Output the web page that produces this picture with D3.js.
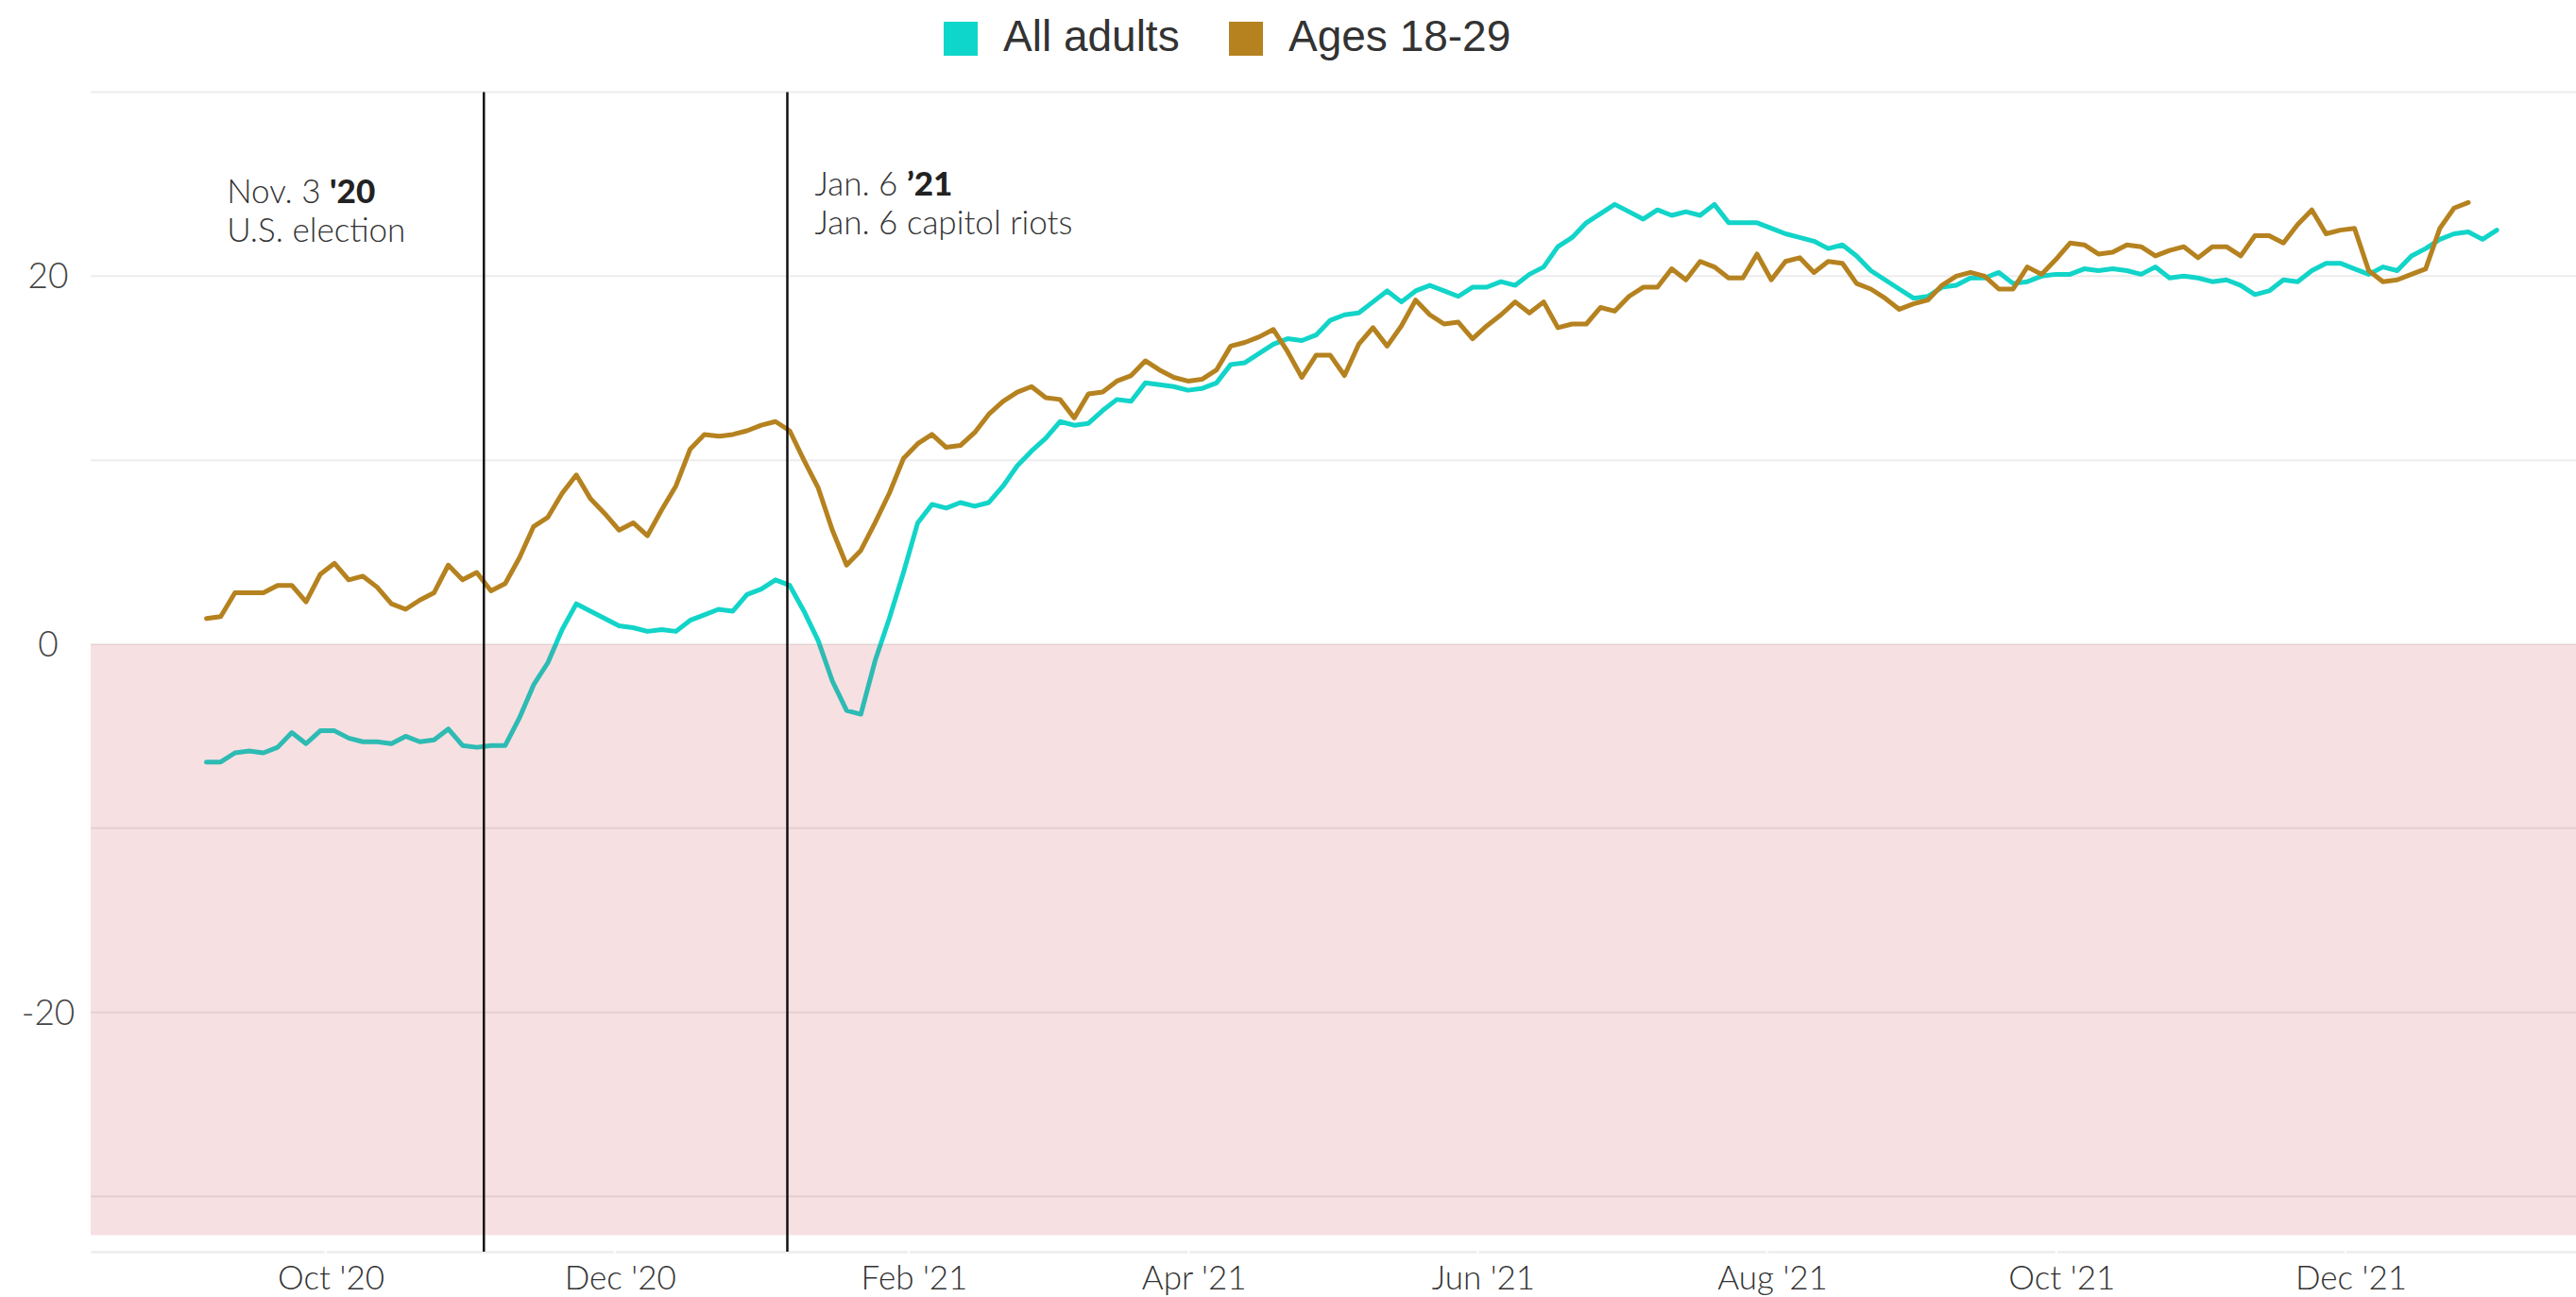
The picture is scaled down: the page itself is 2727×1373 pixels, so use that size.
<!DOCTYPE html>
<html>
<head>
<meta charset="utf-8">
<script src="https://cdn.jsdelivr.net/npm/d3@7"></script>
<style>
  html, body { margin: 0; padding: 0; background: #fff; }
  svg { display: block; }
</style>
</head>
<body>
<div id="chart"></div>
<script>
// net approval, one reading every 3 days starting Sep 6 2020
const startDate = Date.UTC(2020, 8, 6);
const stepDays = 3;

const allAdults = [
  -6.4, -6.4, -5.9, -5.8, -5.9, -5.6, -4.8, -5.4, -4.7, -4.7,
  -5.1, -5.3, -5.3, -5.4, -5.0, -5.3, -5.2, -4.6, -5.5, -5.6,
  -5.5, -5.5, -4.0, -2.2, -1.0, 0.8, 2.2, 1.8, 1.4, 1.0,
  0.9, 0.7, 0.8, 0.7, 1.3, 1.6, 1.9, 1.8, 2.7, 3.0,
  3.5, 3.2, 1.8, 0.2, -2.0, -3.6, -3.8, -0.9, 1.4, 3.9,
  6.6, 7.6, 7.4, 7.7, 7.5, 7.7, 8.6, 9.7, 10.5, 11.2,
  12.1, 11.9, 12.0, 12.7, 13.3, 13.2, 14.2, 14.1, 14.0, 13.8,
  13.9, 14.2, 15.2, 15.3, 15.8, 16.3, 16.6, 16.5, 16.8, 17.6,
  17.9, 18.0, 18.6, 19.2, 18.6, 19.2, 19.5, 19.2, 18.9, 19.4,
  19.4, 19.7, 19.5, 20.1, 20.5, 21.6, 22.1, 22.9, 23.4, 23.9,
  23.5, 23.1, 23.6, 23.3, 23.5, 23.3, 23.9, 22.9, 22.9, 22.9,
  22.6, 22.3, 22.1, 21.9, 21.5, 21.7, 21.1, 20.3, 19.8, 19.3,
  18.8, 18.9, 19.4, 19.5, 19.9, 19.9, 20.2, 19.6, 19.7, 20.0,
  20.1, 20.1, 20.4, 20.3, 20.4, 20.3, 20.1, 20.5, 19.9, 20.0,
  19.9, 19.7, 19.8, 19.5, 19.0, 19.2, 19.8, 19.7, 20.3, 20.7,
  20.7, 20.4, 20.1, 20.5, 20.3, 21.1, 21.5, 22.0, 22.3, 22.4,
  22.0, 22.5
];

const ages18to29 = [
  1.4, 1.5, 2.8, 2.8, 2.8, 3.2, 3.2, 2.3, 3.8, 4.4,
  3.5, 3.7, 3.1, 2.2, 1.9, 2.4, 2.8, 4.3, 3.5, 3.9,
  2.9, 3.3, 4.7, 6.4, 6.9, 8.2, 9.2, 7.9, 7.1, 6.2,
  6.6, 5.9, 7.3, 8.6, 10.6, 11.4, 11.3, 11.4, 11.6, 11.9,
  12.1, 11.6, 10.0, 8.5, 6.2, 4.3, 5.1, 6.6, 8.2, 10.1,
  10.9, 11.4, 10.7, 10.8, 11.5, 12.5, 13.2, 13.7, 14.0, 13.4,
  13.3, 12.3, 13.6, 13.7, 14.3, 14.6, 15.4, 14.9, 14.5, 14.3,
  14.4, 14.9, 16.2, 16.4, 16.7, 17.1, 15.9, 14.5, 15.7, 15.7,
  14.6, 16.3, 17.2, 16.2, 17.3, 18.7, 17.9, 17.4, 17.5, 16.6,
  17.3, 17.9, 18.6, 18.0, 18.6, 17.2, 17.4, 17.4, 18.3, 18.1,
  18.9, 19.4, 19.4, 20.4, 19.8, 20.8, 20.5, 19.9, 19.9, 21.2,
  19.8, 20.8, 21.0, 20.2, 20.8, 20.7, 19.6, 19.3, 18.8, 18.2,
  18.5, 18.7, 19.5, 20.0, 20.2, 20.0, 19.3, 19.3, 20.5, 20.1,
  20.9, 21.8, 21.7, 21.2, 21.3, 21.7, 21.6, 21.1, 21.4, 21.6,
  21.0, 21.6, 21.6, 21.1, 22.2, 22.2, 21.8, 22.8, 23.6, 22.3,
  22.5, 22.6, 20.3, 19.7, 19.8, 20.1, 20.4, 22.6, 23.7, 24.0
];

const seriesNames = ["All adults", "Ages 18-29"];
const seriesColors = ["#12d4c8", "#b5821f"];
const legendColors = ["#0fd6cb", "#b5821f"];
const yTickValues = [20, 0, -20];
const yGridValues = [30, 20, 10, 0, -10, -20, -30];
const xTickDates = ["2020-10-01", "2020-12-01", "2021-02-01", "2021-04-01",
                    "2021-06-01", "2021-08-01", "2021-10-01", "2021-12-01"];
const eventDates = ["2020-11-03", "2021-01-06"];
const eventHeads = ["Nov. 3 ", "Jan. 6 "];
const eventYears = ["'20", "’21"];
const eventTexts = ["U.S. election", "Jan. 6 capitol riots"];

const width = 2727, height = 1373;
const margin = { top: 97.5, right: 0, bottom: 48, left: 96 };

const svg = d3.select("#chart").append("svg")
  .attr("width", width)
  .attr("height", height);

const x = d3.scaleUtc()
  .domain([Date.UTC(2020, 7, 12, 14), Date.UTC(2022, 0, 18, 17)])
  .range([margin.left, width - margin.right]);

const y = d3.scaleLinear()
  .domain([-33, 30])
  .range([height - margin.bottom, margin.top]);

const dateAt = i => d3.utcDay.offset(new Date(startDate), i * stepDays);
const series = [allAdults, ages18to29].map(vals => vals.map((v, i) => ({ date: dateAt(i), value: v })));

// gridlines
svg.append("g")
  .selectAll("line")
  .data(yGridValues)
  .join("line")
  .attr("x1", margin.left)
  .attr("x2", width - margin.right)
  .attr("y1", d => y(d))
  .attr("y2", d => y(d))
  .attr("stroke", "#ececec")
  .attr("stroke-width", 2);

// y labels
svg.append("g")
  .selectAll("text")
  .data(yTickValues)
  .join("text")
  .attr("x", 51)
  .attr("y", d => y(d))
  .attr("dy", "0.35em")
  .attr("text-anchor", "middle")
  .style("font-family", "Lato, sans-serif")
  .style("font-weight", 300)
  .style("font-size", "37px")
  .style("fill", "#444")
  .text(d => d);

// x axis
const xAxis = svg.append("g")
  .attr("transform", `translate(0,${y(-33)})`)
  .call(d3.axisBottom(x)
    .tickValues(xTickDates.map(s => new Date(s + "T00:00:00Z")))
    .tickFormat(d3.utcFormat("%b '%y"))
    .tickSizeOuter(0));

xAxis.select(".domain")
  .attr("stroke", "#ececec")
  .attr("stroke-width", 2.5);

xAxis.selectAll(".tick line")
  .attr("y1", -2)
  .attr("y2", 2)
  .attr("stroke", "#fff")
  .attr("stroke-width", 2);

xAxis.selectAll(".tick text")
  .attr("y", 40)
  .attr("dy", null)
  .attr("dx", 6)
  .style("font-family", "Lato, sans-serif")
  .style("font-weight", 300)
  .style("font-size", "35px")
  .style("fill", "#333");

// lines
const line = d3.line()
  .x(d => x(d.date))
  .y(d => y(d.value));

svg.append("g")
  .selectAll("path")
  .data(series)
  .join("path")
  .attr("d", line)
  .attr("fill", "none")
  .attr("stroke", (d, i) => seriesColors[i])
  .attr("stroke-width", 5)
  .attr("stroke-linejoin", "round")
  .attr("stroke-linecap", "round");

// negative zone, tinted over everything below zero
svg.append("rect")
  .attr("x", margin.left)
  .attr("y", y(0))
  .attr("width", width - margin.right - margin.left)
  .attr("height", y(-32.1) - y(0))
  .attr("fill", "rgb(200,50,60)")
  .attr("fill-opacity", 0.15);

// event markers
const events = eventDates.map((d, i) => ({
  date: new Date(d + "T12:00:00Z"),
  head: eventHeads[i], year: eventYears[i], text: eventTexts[i]
}));

svg.append("g")
  .selectAll("line")
  .data(events)
  .join("line")
  .attr("x1", d => x(d.date))
  .attr("x2", d => x(d.date))
  .attr("y1", y(30))
  .attr("y2", y(-33))
  .attr("stroke", "#111")
  .attr("stroke-width", 2.5);

const labelPos = [{ dx: -272, y: 215 }, { dx: 29, y: 207 }];

const ev = svg.append("g")
  .selectAll("g")
  .data(events)
  .join("g")
  .attr("transform", (d, i) => `translate(${x(d.date) + labelPos[i].dx},${labelPos[i].y})`)
  .style("font-family", "Lato, sans-serif")
  .style("font-size", "35px")
  .style("fill", "#333");

const head = ev.append("text").style("font-weight", 300);
head.append("tspan").text(d => d.head);
head.append("tspan").style("font-weight", 900).style("fill", "#222").text(d => d.year);

ev.append("text")
  .attr("y", 41)
  .style("font-weight", 300)
  .text(d => d.text);

// legend
const legend = svg.append("g")
  .selectAll("g")
  .data(seriesNames)
  .join("g")
  .attr("transform", (d, i) => `translate(${[999, 1301][i]},23)`);

legend.append("rect")
  .attr("width", 36)
  .attr("height", 36)
  .attr("fill", (d, i) => legendColors[i]);

legend.append("text")
  .attr("x", 63)
  .attr("y", 31)
  .style("font-family", "'Liberation Sans', Arial, sans-serif")
  .style("font-size", "46px")
  .style("fill", "#333")
  .text(d => d);
</script>
</body>
</html>
